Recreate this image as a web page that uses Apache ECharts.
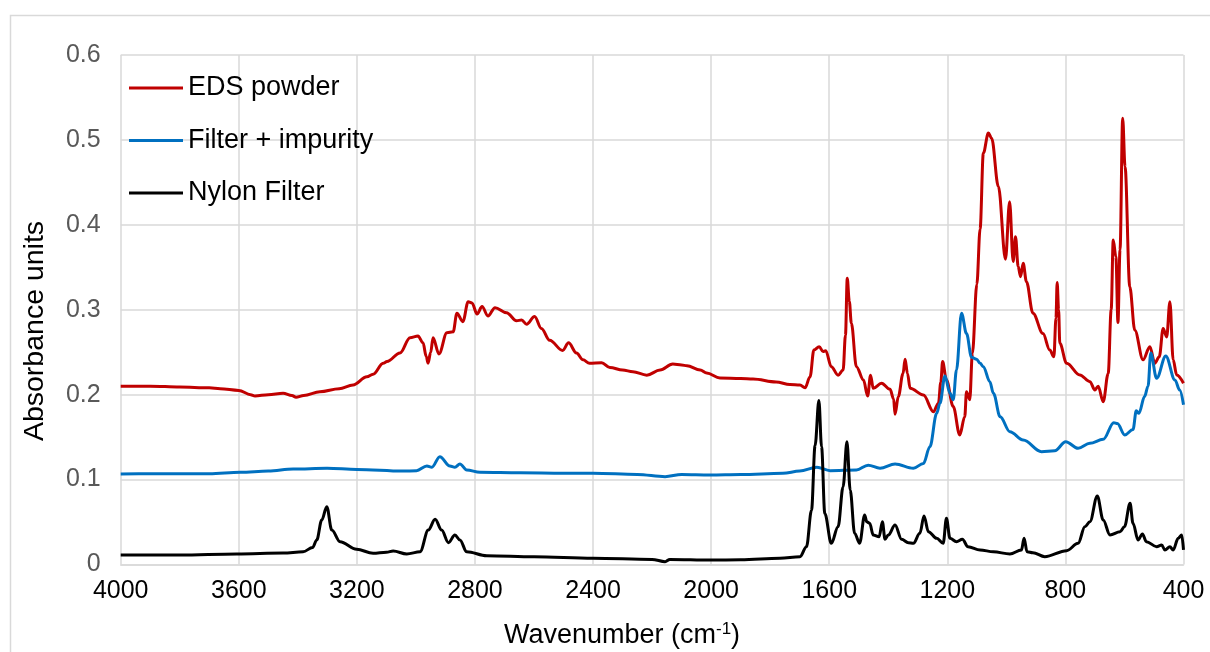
<!DOCTYPE html>
<html>
<head>
<meta charset="utf-8">
<script src="https://cdn.jsdelivr.net/npm/echarts@6/dist/echarts.min.js"></script>
<style>
  html, body { margin: 0; padding: 0; background: #ffffff; }
  #chart { width: 1210px; height: 652px; }
</style>
</head>
<body>
<div id="chart"></div>
<script>
// FTIR absorbance spectra: [wavenumber (cm-1), absorbance]
const seriesNames = ['EDS powder', 'Filter + impurity', 'Nylon Filter'];
const seriesColors = ['#C00000', '#0070C0', '#000000'];

const edsPowder = [
  [4000,0.210],[3900,0.210],[3800,0.209],[3700,0.208],[3663,0.207],[3600,0.205],[3560,0.200],[3545,0.1985],
  [3500,0.200],[3450,0.2016],[3420,0.199],[3406,0.197],[3380,0.199],[3325,0.2035],[3260,0.207],[3213,0.2114],
  [3166,0.221],[3145,0.224],[3111,0.237],[3098,0.239],[3054,0.249],[3020,0.267],[2993,0.269],[2976,0.261],
  [2965,0.245],[2959,0.237],[2950,0.250],[2942,0.267],[2922,0.248],[2895,0.273],[2874,0.274],[2861,0.296],
  [2841,0.286],[2823,0.3095],[2810,0.308],[2793,0.295],[2776,0.3037],[2756,0.2927],[2732,0.3025],[2693,0.2966],
  [2659,0.287],[2642,0.288],[2625,0.283],[2598,0.292],[2575,0.278],[2547,0.264],[2503,0.252],[2483,0.261],
  [2456,0.249],[2434,0.241],[2412,0.237],[2371,0.2377],[2343,0.232],[2300,0.229],[2265,0.227],[2218,0.223],
  [2173,0.229],[2130,0.236],[2100,0.235],[2082,0.234],[2037,0.229],[2015,0.2255],[1970,0.2197],[1900,0.219],
  [1858,0.2185],[1780,0.215],[1733,0.212],[1699,0.2114],[1682,0.208],[1665,0.221],[1652,0.2526],[1634,0.2565],
  [1621,0.2507],[1612,0.2518],[1593,0.233],[1570,0.223],[1553,0.229],[1545,0.27],[1539,0.337],[1532,0.31],
  [1525,0.284],[1508,0.233],[1484,0.2173],[1470,0.1985],[1460,0.223],[1451,0.2075],[1423,0.2134],[1394,0.2063],
  [1382,0.195],[1377,0.177],[1366,0.1977],[1350,0.225],[1343,0.2417],[1335,0.225],[1326,0.2075],[1281,0.1996],
  [1247,0.18],[1230,0.19],[1222,0.215],[1216,0.239],[1203,0.2173],[1180,0.186],[1158,0.1525],[1141,0.174],
  [1135,0.2035],[1124,0.194],[1115,0.249],[1100,0.330],[1089,0.395],[1078,0.4845],[1061,0.508],[1050,0.502],
  [1027,0.445],[1003,0.3595],[989,0.4273],[977,0.3567],[969,0.386],[960,0.3508],[952,0.339],[943,0.3548],
  [932,0.333],[910,0.296],[876,0.272],[853,0.2526],[839,0.2447],[832,0.29],[828,0.332],[823,0.30],
  [819,0.2605],[796,0.237],[751,0.2232],[717,0.2153],[700,0.2055],[689,0.21],[672,0.1917],[655,0.225],
  [645,0.30],[638,0.382],[629,0.3625],[622,0.285],[615,0.3705],[606,0.5256],[598,0.4685],[582,0.327],
  [565,0.276],[537,0.241],[514,0.2565],[497,0.237],[482,0.2447],[469,0.278],[457,0.268],[446,0.3095],
  [435,0.241],[423,0.2232],[400,0.2134]
];

const filterImpurity = [
  [4000,0.1065],[3900,0.1068],[3800,0.107],[3700,0.107],[3595,0.1086],[3500,0.110],[3416,0.1125],[3301,0.1133],
  [3200,0.112],[3044,0.110],[2998,0.1105],[2963,0.116],[2946,0.1145],[2919,0.127],[2885,0.116],[2868,0.1145],
  [2851,0.1184],[2828,0.1113],[2783,0.1086],[2648,0.108],[2500,0.1075],[2400,0.1075],[2250,0.106],[2156,0.1034],
  [2100,0.106],[2004,0.1054],[1900,0.106],[1757,0.1074],[1700,0.110],[1642,0.1145],[1597,0.1105],[1508,0.1113],
  [1468,0.117],[1428,0.1133],[1377,0.1184],[1315,0.1133],[1281,0.119],[1259,0.1388],[1236,0.178],[1225,0.19],
  [1208,0.222],[1191,0.2016],[1180,0.194],[1169,0.229],[1152,0.296],[1135,0.272],[1118,0.244],[1101,0.2417],
  [1089,0.237],[1078,0.233],[1056,0.2153],[1044,0.2016],[1021,0.174],[988,0.1564],[943,0.1466],[881,0.1329],
  [836,0.134],[799,0.1446],[757,0.1369],[717,0.1427],[672,0.1474],[636,0.167],[624,0.166],[599,0.1525],
  [571,0.159],[560,0.181],[551,0.178],[532,0.1977],[520,0.210],[511,0.249],[491,0.2193],[460,0.2456],
  [429,0.2173],[413,0.2055],[400,0.188]
];

const nylonFilter = [
  [4000,0.0112],[3800,0.0112],[3607,0.0124],[3450,0.0135],[3382,0.015],[3350,0.020],[3336,0.0289],[3319,0.0524],
  [3302,0.068],[3285,0.0406],[3257,0.0269],[3201,0.018],[3145,0.0132],[3100,0.0145],[3077,0.0159],[3031,0.0124],
  [2986,0.015],[2958,0.0406],[2935,0.0532],[2913,0.0406],[2890,0.0257],[2868,0.0347],[2851,0.0289],[2828,0.015],
  [2760,0.0104],[2600,0.009],[2400,0.0073],[2200,0.006],[2156,0.0033],[2140,0.006],[2000,0.0053],[1900,0.0055],
  [1767,0.0073],[1699,0.0092],[1677,0.021],[1660,0.064],[1648,0.14],[1635,0.193],[1626,0.1388],[1615,0.06],
  [1593,0.025],[1570,0.0445],[1553,0.0916],[1540,0.1446],[1529,0.0877],[1514,0.0367],[1497,0.025],[1480,0.0583],
  [1473,0.0504],[1463,0.0485],[1451,0.0347],[1431,0.0328],[1420,0.0504],[1411,0.0297],[1400,0.0347],[1377,0.0465],
  [1355,0.0297],[1332,0.0257],[1315,0.025],[1293,0.0367],[1279,0.0571],[1264,0.0386],[1236,0.0308],[1214,0.025],
  [1203,0.0544],[1191,0.0308],[1169,0.0269],[1149,0.0297],[1130,0.021],[1089,0.0171],[1044,0.015],[988,0.0124],
  [949,0.0171],[940,0.0308],[930,0.015],[910,0.0139],[870,0.0092],[796,0.0163],[757,0.025],[734,0.0445],
  [717,0.0504],[692,0.0807],[672,0.0524],[649,0.0347],[615,0.0386],[600,0.0445],[581,0.072],[571,0.0485],
  [554,0.0289],[539,0.036],[526,0.0269],[491,0.021],[474,0.023],[463,0.0171],[446,0.021],[435,0.0171],
  [418,0.0308],[406,0.0347],[400,0.0171]
];

const seriesData = [edsPowder, filterImpurity, nylonFilter];

const FONT = '"Liberation Sans", Arial, sans-serif';
const gridColor = '#D9D9D9';

const chart = echarts.init(document.getElementById('chart'), null, { renderer: 'canvas' });

chart.setOption({
  animation: false,
  backgroundColor: '#ffffff',
  grid: { left: 120.7, right: 26.5, top: 55, bottom: 87.5, containLabel: false },
  legend: {
    orient: 'vertical',
    left: 129,
    top: 73,
    padding: 0,
    itemWidth: 54,
    itemHeight: 14,
    itemGap: 22.5,
    icon: 'path://M0,5.6 L54,5.6 L54,8.4 L0,8.4 Z',
    textStyle: { fontFamily: FONT, fontSize: 27, color: '#000000', lineHeight: 30 },
    data: seriesNames
  },
  xAxis: {
    type: 'value',
    inverse: true,
    min: 400,
    max: 4000,
    interval: 400,
    axisLine: { show: true, lineStyle: { color: gridColor, width: 1.5 } },
    axisTick: { show: false },
    axisLabel: {
      fontFamily: FONT, fontSize: 25, color: '#000000', margin: 14,
      formatter: v => String(Math.round(v))
    },
    splitLine: { show: true, lineStyle: { color: gridColor, width: 1.5 } }
  },
  yAxis: {
    type: 'value',
    min: 0,
    max: 0.6,
    interval: 0.1,
    axisLine: { show: false },
    axisTick: { show: false },
    axisLabel: {
      fontFamily: FONT, fontSize: 25, color: '#595959', margin: 20,
      formatter: v => (Math.round(v * 10) / 10).toString()
    },
    splitLine: { show: true, lineStyle: { color: gridColor, width: 1.5 } }
  },
  graphic: [
    {
      type: 'rect',
      silent: true,
      shape: { x: 10.5, y: 15.5, width: 1300, height: 700 },
      style: { fill: 'none', stroke: gridColor, lineWidth: 1.5 }
    },
    {
      type: 'text',
      x: 35,
      y: 331,
      rotation: Math.PI / 2,
      style: {
        text: 'Absorbance units',
        font: '28.5px ' + FONT,
        fill: '#000000',
        align: 'center',
        verticalAlign: 'middle'
      }
    },
    {
      type: 'text',
      x: 622,
      y: 636,
      style: {
        text: '{a|Wavenumber (cm}{s|-1}{a|)}',
        align: 'center',
        verticalAlign: 'middle',
        rich: {
          a: { fontFamily: FONT, fontSize: 27, fill: '#000000', color: '#000000', lineHeight: 30 },
          s: { fontFamily: FONT, fontSize: 17, fill: '#000000', color: '#000000', verticalAlign: 'top', lineHeight: 30 }
        }
      }
    }
  ],
  series: seriesNames.map((name, i) => ({
    name: name,
    type: 'line',
    data: seriesData[i],
    symbol: 'none',
    smooth: 0.35,
    smoothMonotone: 'x',
    clip: true,
    lineStyle: { color: seriesColors[i], width: 3 },
    itemStyle: { color: seriesColors[i] },
    z: 2 + i
  }))
});
</script>
</body>
</html>
